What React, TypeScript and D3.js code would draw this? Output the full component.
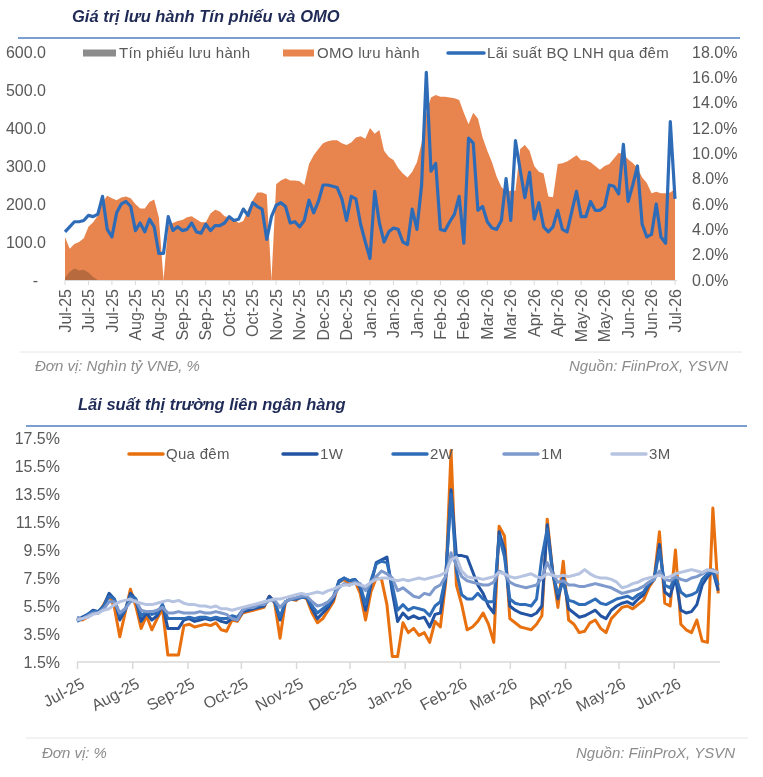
import { useEffect, useRef } from "react";
import * as d3 from "d3";

const FONT = "'Liberation Sans', Arial, sans-serif";
const NAVY = "#1F2B56";
const RULE = "#4F7FC0";
const AXIS_TEXT = "#595959";
const FOOT_TEXT = "#8C8C8C";

// ---------- top chart: outstanding bills & OMO ----------
const topTickLabels = [
  "Jul-25", "Jul-25", "Jul-25", "Aug-25", "Aug-25", "Sep-25", "Sep-25", "Oct-25", "Oct-25",
  "Nov-25", "Nov-25", "Dec-25", "Dec-25", "Jan-26", "Jan-26", "Jan-26", "Feb-26", "Feb-26",
  "Mar-26", "Mar-26", "Apr-26", "Apr-26", "May-26", "May-26", "Jun-26", "Jun-26", "Jul-26",
];

const omoValues = [
  113, 82, 95, 100, 110, 140, 152, 170, 205, 222,
  215, 210, 217, 220, 215, 200, 188, 188, 205, 212,
  165, 0, 145, 150, 155, 158, 165, 168, 160, 152,
  152, 175, 185, 180, 168, 165, 160, 150, 155, 185,
  210, 230, 230, 225, 0, 252, 262, 268, 262, 262,
  260, 250, 305, 328, 345, 360, 365, 368, 368, 360,
  355, 362, 375, 378, 372, 400, 385, 395, 340, 324,
  316, 295, 280, 270, 285, 310, 360, 440, 480, 487,
  482, 482, 480, 478, 474, 440, 410, 440, 425, 375,
  340, 310, 272, 245, 232, 235, 235, 345, 355, 340,
  300, 285, 280, 220, 218, 305, 307, 312, 320, 328,
  315, 315, 310, 300, 290, 300, 305, 320, 335, 330,
  318, 308, 295, 270, 255, 228, 232, 228, 228, 230,
  240,
];

const tinPhieuValues = [5, 22, 30, 25, 27, 20, 8, 0];

const lnhOvernight = [
  3.8, 4.2, 4.6, 4.6, 4.7, 5.1, 5.0, 5.2, 6.6, 4.0,
  3.4, 5.3, 6.0, 6.2, 5.8, 3.9, 4.5, 3.8, 4.8, 4.2,
  2.1, 2.1, 5.0, 3.9, 4.2, 3.9, 4.0, 4.5, 3.8, 3.7,
  4.4, 3.9, 4.3, 4.3, 4.5, 5.0, 4.7, 4.8, 5.6, 5.1,
  6.1, 5.8, 5.6, 3.2, 5.0, 5.9, 6.1, 5.8, 4.5, 4.6,
  4.2, 4.7, 6.3, 5.3, 6.2, 7.5, 7.5, 7.4, 7.3, 6.4,
  4.7, 6.6, 6.4, 4.4, 3.0, 1.7, 7.0, 4.5, 3.0, 3.8,
  4.1, 4.0, 3.0, 2.8, 5.6, 4.0, 7.5, 16.4, 8.6, 9.2,
  4.0, 3.9, 4.6, 5.2, 6.6, 2.9, 11.2, 10.8, 5.5, 5.8,
  4.6, 4.1, 4.0, 4.7, 8.0, 4.7, 11.0, 8.7, 6.5, 8.5,
  4.8, 6.1, 4.2, 3.8, 4.2, 5.5, 4.0, 3.8, 5.4, 7.0,
  5.0, 5.0, 6.2, 5.5, 5.5, 5.8, 7.5, 7.4, 6.8, 10.7,
  6.2, 7.5, 9.0, 4.4, 3.4, 3.6, 6.0, 3.4, 2.9, 12.5,
  6.4,
];

const leftTicks = [0, 100, 200, 300, 400, 500, 600];
const rightTicks = [0, 2, 4, 6, 8, 10, 12, 14, 16, 18];

// ---------- bottom chart: interbank rates ----------
const rateStart = new Date(2025, 6, 1);
const rateStepDays = 3;

const quaDem = [
  4.6, 4.5, 4.7, 5.0, 5.0, 5.6, 6.3, 5.4, 3.3, 5.0,
  6.7, 5.5, 3.9, 4.8, 3.8, 4.6, 5.3, 2.0, 2.0, 2.0,
  4.1, 4.2, 4.0, 4.1, 4.2, 4.1, 4.3, 3.8, 3.7, 4.5,
  4.4, 5.0, 5.1, 5.2, 5.3, 5.4, 6.2, 5.7, 3.2, 5.8,
  6.0, 5.9, 6.2, 6.0, 5.0, 4.3, 4.6, 5.2, 5.8, 7.2,
  7.4, 7.0, 7.3, 6.4, 4.5, 6.5, 7.5, 7.4, 5.6, 1.9,
  1.9, 4.3, 3.6, 3.9, 3.4, 3.6, 2.9, 4.4, 4.0, 7.2,
  16.6, 7.0, 5.6, 3.8, 4.0, 4.4, 5.0, 4.2, 2.9, 11.2,
  10.5, 4.6, 4.3, 4.0, 3.9, 3.8, 4.2, 4.8, 11.7, 8.0,
  5.4, 8.7, 4.5, 4.2, 3.6, 3.7, 4.3, 4.5, 3.9, 3.6,
  4.6, 5.0, 5.4, 5.5, 5.3, 5.6, 5.9, 6.8, 7.4, 10.8,
  5.7, 5.5, 9.5, 4.2, 3.8, 3.6, 4.5, 3.0, 2.9, 12.5,
  6.4,
];

const rate1W = [
  4.5, 4.7, 4.9, 5.2, 5.1, 5.5, 6.4, 6.0, 4.5, 5.2,
  6.4, 6.0, 4.4, 5.0, 4.5, 4.8, 5.6, 3.9, 3.9, 3.9,
  4.5, 4.6, 4.4, 4.5, 4.6, 4.5, 4.6, 4.4, 4.3, 4.6,
  4.5, 5.1, 5.2, 5.3, 5.4, 5.5, 6.2, 5.8, 4.5, 5.8,
  6.0, 6.0, 6.2, 6.1, 5.3, 4.6, 5.0, 5.4, 6.0, 7.3,
  7.5, 7.3, 7.4, 6.8, 5.2, 7.0, 8.6, 8.8, 9.0, 6.5,
  4.4, 5.0, 4.6, 4.8, 4.6, 4.7, 4.0, 4.9, 5.0, 7.5,
  13.8, 9.1, 9.1, 9.0, 8.0, 7.0, 6.4, 5.5, 5.0, 10.8,
  9.5, 5.5, 5.2, 5.0, 4.9, 4.8, 5.0, 5.5, 11.3, 8.0,
  6.0, 7.5, 5.3, 5.0, 4.7, 4.8, 5.0, 5.2, 4.8, 4.6,
  5.2, 5.5, 5.7, 5.8, 5.6, 6.0, 6.3, 7.0, 7.4, 9.9,
  6.5, 6.2, 7.5, 5.2, 5.0, 5.1, 5.6, 7.0, 7.6, 8.0,
  6.6,
];

const rate2W = [
  4.4, 4.6, 4.9, 5.1, 5.1, 5.5, 6.2, 6.0, 4.8, 5.2,
  6.2, 6.0, 4.8, 5.1, 4.9, 5.0, 5.6, 4.6, 4.6, 4.6,
  4.6, 4.7, 4.6, 4.7, 4.7, 4.6, 4.7, 4.6, 4.6, 4.8,
  4.7, 5.2, 5.3, 5.4, 5.5, 5.6, 6.0, 5.8, 4.7, 5.8,
  6.0, 6.0, 6.1, 6.1, 5.5, 5.0, 5.3, 5.6, 6.2, 7.2,
  7.5, 7.3, 7.4, 7.0, 5.6, 7.3, 8.5, 8.7, 8.6, 7.0,
  5.2, 5.6, 5.2, 5.4, 5.3, 5.2, 4.8, 5.5, 5.8, 7.6,
  13.5, 8.0, 6.3, 6.0, 6.0, 6.4, 6.0, 5.8, 5.8, 10.5,
  9.0, 6.0, 5.7, 5.6, 5.6, 5.5, 6.0, 9.0, 11.0, 7.8,
  6.4, 7.2, 5.9, 5.8, 5.6, 5.6, 5.8, 6.0, 5.7, 5.6,
  5.8, 6.0, 6.1, 6.2, 6.0, 6.3, 6.5, 7.1, 7.4, 9.5,
  7.0, 6.8, 7.6, 6.5, 6.2, 6.3, 6.5, 7.4, 7.8, 8.0,
  7.0,
];

const rate1M = [
  4.7, 4.6, 4.8, 5.0, 5.0, 5.3, 5.8, 5.8, 5.0, 5.3,
  5.8, 5.9, 5.2, 5.1, 5.1, 5.2, 5.4, 5.0, 5.0, 5.1,
  5.0, 5.0, 5.0, 5.1, 5.0, 5.0, 5.1, 5.0, 4.9, 4.6,
  4.5, 5.2, 5.4, 5.4, 5.6, 5.6, 5.9, 5.9, 5.4, 5.8,
  6.0, 6.1, 6.2, 6.2, 5.8, 5.5, 5.6, 5.8, 6.2, 6.8,
  7.1, 7.0, 7.2, 7.1, 6.6, 7.2, 7.6, 8.0, 7.8, 7.5,
  6.6, 6.8, 6.5, 6.2, 6.1, 6.4, 6.3, 6.8, 7.0, 7.6,
  9.3, 8.4, 7.6, 7.3, 7.2, 7.1, 7.0, 7.0, 7.2, 8.0,
  7.8, 7.2, 7.0, 6.9, 6.8, 6.9, 7.0, 7.5, 8.6, 7.8,
  7.2, 7.3, 7.0, 7.0, 6.9, 6.9, 7.0, 7.1, 7.0, 6.9,
  6.8, 6.6, 6.4, 6.5, 6.6, 6.7, 6.9, 7.2, 7.4, 8.0,
  7.4, 7.3, 7.6, 7.4, 7.3, 7.5, 7.6, 7.8, 8.0, 8.1,
  7.8,
];

const rate3M = [
  4.5, 4.6, 4.7, 4.9, 5.0, 5.2, 5.3, 5.6, 5.8, 5.9,
  6.0, 5.8, 5.7, 5.6, 5.6, 5.7, 5.8, 5.9, 5.8, 5.9,
  5.7, 5.6, 5.6, 5.5, 5.5, 5.4, 5.5, 5.3, 5.3, 5.2,
  5.3, 5.4, 5.5, 5.6, 5.7, 5.8, 5.9, 6.0, 6.0, 6.1,
  6.2, 6.3, 6.4, 6.3, 6.4, 6.5, 6.4, 6.6, 6.7, 6.9,
  7.0, 7.0, 7.1, 7.0, 6.9, 7.2, 7.4, 7.5, 7.5, 7.4,
  7.3, 7.4, 7.3, 7.4, 7.5, 7.4, 7.5, 7.6, 7.7, 7.9,
  8.8, 9.0, 8.0, 7.6, 7.5, 7.5, 7.4, 7.5, 7.6, 7.9,
  7.8, 7.6, 7.5, 7.6, 7.7, 7.8, 7.6, 7.5, 7.8, 7.7,
  7.6, 7.7, 7.6, 7.7, 7.8, 8.1, 7.8, 7.6, 7.5, 7.5,
  7.4, 7.2, 6.8, 6.9, 7.1, 7.2, 7.4, 7.5, 7.6, 7.7,
  7.5, 7.6, 7.8, 7.9, 8.0, 8.1, 8.0, 7.9, 8.1, 8.0,
  7.9,
];

const rateTicks = [1.5, 3.5, 5.5, 7.5, 9.5, 11.5, 13.5, 15.5, 17.5];

const rateSeries = [
  { name: "Qua đêm", values: quaDem, color: "#E8700F" },
  { name: "1W", values: rate1W, color: "#2254A3" },
  { name: "2W", values: rate2W, color: "#2F6DB9" },
  { name: "1M", values: rate1M, color: "#7E99CC" },
  { name: "3M", values: rate3M, color: "#B6C4E2" },
];

type Sel = d3.Selection<SVGSVGElement, unknown, null, undefined>;

function drawTop(svg: Sel) {
  const g = svg.append("g");

  g.append("text")
    .attr("x", 72)
    .attr("y", 22)
    .attr("font-size", 16.5)
    .attr("font-weight", "bold")
    .attr("font-style", "italic")
    .attr("fill", NAVY)
    .text("Giá trị lưu hành Tín phiếu và OMO");
  g.append("line")
    .attr("x1", 18).attr("x2", 740)
    .attr("y1", 38).attr("y2", 38)
    .attr("stroke", RULE).attr("stroke-width", 1.5);

  const x = d3.scaleLinear().domain([0, omoValues.length - 1]).range([65, 675]);
  const yL = d3.scaleLinear().domain([0, 600]).range([280, 52]);
  const yR = d3.scaleLinear().domain([0, 18]).range([280, 52]);

  const area = d3
    .area<number>()
    .x((_, i) => x(i))
    .y0(yL(0))
    .y1((d) => yL(d));

  g.append("path").datum(omoValues).attr("d", area).attr("fill", "#E8854F");
  g.append("path")
    .datum(tinPhieuValues)
    .attr("d", area)
    .attr("fill", "#8C8C8C")
    .attr("opacity", 0.45)
    .style("mix-blend-mode", "multiply");

  // x axis
  g.append("line")
    .attr("x1", x(0)).attr("x2", x(omoValues.length - 1) + 2)
    .attr("y1", 280.5).attr("y2", 280.5)
    .attr("stroke", "#D9D9D9");
  const step = (omoValues.length - 1) / (topTickLabels.length - 1);
  topTickLabels.forEach((lab, j) => {
    const tx = x(j * step);
    g.append("line")
      .attr("x1", tx).attr("x2", tx)
      .attr("y1", 280).attr("y2", 285)
      .attr("stroke", "#D9D9D9");
    g.append("text")
      .attr("transform", `translate(${tx},289) rotate(-90)`)
      .attr("text-anchor", "end")
      .attr("dy", "0.35em")
      .attr("font-size", 16)
      .attr("fill", AXIS_TEXT)
      .text(lab);
  });

  const line = d3
    .line<number>()
    .x((_, i) => x(i))
    .y((d) => yR(d));
  g.append("path")
    .datum(lnhOvernight)
    .attr("d", line)
    .attr("fill", "none")
    .attr("stroke", "#2E6CB8")
    .attr("stroke-width", 3.2)
    .attr("stroke-linejoin", "round");

  leftTicks.forEach((v) => {
    g.append("text")
      .attr("x", v === 0 ? 38 : 46)
      .attr("y", yL(v))
      .attr("dy", "0.35em")
      .attr("text-anchor", "end")
      .attr("font-size", 16)
      .attr("fill", AXIS_TEXT)
      .text(v === 0 ? "-" : v.toFixed(1));
  });
  rightTicks.forEach((v) => {
    g.append("text")
      .attr("x", 692)
      .attr("y", yR(v))
      .attr("dy", "0.35em")
      .attr("font-size", 16)
      .attr("fill", AXIS_TEXT)
      .text(`${v.toFixed(1)}%`);
  });

  // legend
  const ly = 53;
  const leg = g.append("g").attr("font-size", 15).attr("fill", AXIS_TEXT).attr("letter-spacing", 0.3);
  leg.append("rect").attr("x", 83).attr("y", ly - 3.5).attr("width", 33).attr("height", 7).attr("fill", "#8C8C8C");
  leg.append("text").attr("x", 119).attr("y", ly).attr("dy", "0.35em").text("Tín phiếu lưu hành");
  leg.append("rect").attr("x", 283).attr("y", ly - 3.5).attr("width", 31).attr("height", 7).attr("fill", "#E8854F");
  leg.append("text").attr("x", 317).attr("y", ly).attr("dy", "0.35em").text("OMO lưu hành");
  leg.append("line").attr("x1", 448).attr("x2", 484).attr("y1", ly).attr("y2", ly)
    .attr("stroke", "#2E6CB8").attr("stroke-width", 3.5).attr("stroke-linecap", "round");
  leg.append("text").attr("x", 487).attr("y", ly).attr("dy", "0.35em").text("Lãi suất BQ LNH qua đêm");

  // footer
  g.append("line").attr("x1", 20).attr("x2", 742).attr("y1", 352).attr("y2", 352).attr("stroke", "#E6E6E6");
  g.append("text").attr("x", 35).attr("y", 371).attr("font-size", 15).attr("font-style", "italic")
    .attr("fill", FOOT_TEXT).text("Đơn vị: Nghìn tỷ VNĐ, %");
  g.append("text").attr("x", 728).attr("y", 371).attr("font-size", 15).attr("font-style", "italic")
    .attr("text-anchor", "end").attr("fill", FOOT_TEXT).text("Nguồn: FiinProX, YSVN");
}

function drawBottom(svg: Sel) {
  const g = svg.append("g");

  g.append("text")
    .attr("x", 78)
    .attr("y", 410)
    .attr("font-size", 16.5)
    .attr("font-weight", "bold")
    .attr("font-style", "italic")
    .attr("fill", NAVY)
    .text("Lãi suất thị trường liên ngân hàng");
  g.append("line")
    .attr("x1", 26).attr("x2", 747)
    .attr("y1", 426).attr("y2", 426)
    .attr("stroke", RULE).attr("stroke-width", 1.5);

  const dates = quaDem.map((_, i) => d3.timeDay.offset(rateStart, i * rateStepDays));
  const x = d3.scaleTime().domain([rateStart, new Date(2026, 5, 27)]).range([77, 720]);
  const y = d3.scaleLinear().domain([1.5, 17.5]).range([662, 438]);

  const xAxis = g
    .append("g")
    .attr("transform", "translate(0,662)")
    .call(
      d3
        .axisBottom(x)
        .ticks(d3.timeMonth.every(1))
        .tickSize(7)
        .tickFormat((d) => d3.timeFormat("%b-%y")(d as Date)),
    );
  xAxis.select(".domain").attr("stroke", "#D9D9D9").attr("stroke-width", 1.5).attr("d", "M77,0H720");
  xAxis.selectAll(".tick line").attr("stroke", "#D9D9D9").attr("stroke-width", 1.5);
  xAxis
    .selectAll<SVGTextElement, Date>(".tick text")
    .attr("font-size", 16)
    .attr("font-family", FONT)
    .attr("fill", AXIS_TEXT)
    .attr("text-anchor", "end")
    .attr("dy", null)
    .attr("y", null)
    .attr("transform", "translate(8,25) rotate(-28)");

  rateTicks.forEach((v) => {
    g.append("text")
      .attr("x", 60)
      .attr("y", y(v))
      .attr("dy", "0.35em")
      .attr("text-anchor", "end")
      .attr("font-size", 16)
      .attr("fill", AXIS_TEXT)
      .text(`${v.toFixed(1)}%`);
  });

  const line = d3
    .line<number>()
    .x((_, i) => x(dates[i]))
    .y((d) => y(d));
  rateSeries.forEach((s) => {
    g.append("path")
      .datum(s.values)
      .attr("d", line)
      .attr("fill", "none")
      .attr("stroke", s.color)
      .attr("stroke-width", 3)
      .attr("stroke-linejoin", "round");
  });

  // legend
  const ly = 454;
  const legX = [129, 283, 393, 504, 612];
  rateSeries.forEach((s, i) => {
    g.append("line")
      .attr("x1", legX[i]).attr("x2", legX[i] + 34)
      .attr("y1", ly).attr("y2", ly)
      .attr("stroke", s.color).attr("stroke-width", 3.5).attr("stroke-linecap", "round");
    g.append("text")
      .attr("x", legX[i] + 37)
      .attr("y", ly)
      .attr("dy", "0.35em")
      .attr("font-size", 15)
      .attr("letter-spacing", 0.3)
      .attr("fill", AXIS_TEXT)
      .text(s.name);
  });

  // footer
  g.append("line").attr("x1", 26).attr("x2", 748).attr("y1", 738).attr("y2", 738).attr("stroke", "#E6E6E6");
  g.append("text").attr("x", 42).attr("y", 758).attr("font-size", 15).attr("font-style", "italic")
    .attr("fill", FOOT_TEXT).text("Đơn vị: %");
  g.append("text").attr("x", 735).attr("y", 758).attr("font-size", 15).attr("font-style", "italic")
    .attr("text-anchor", "end").attr("fill", FOOT_TEXT).text("Nguồn: FiinProX, YSVN");
}

export default function App() {
  const svgRef = useRef<SVGSVGElement>(null);

  useEffect(() => {
    const el = svgRef.current;
    if (!el) return;
    const svg = d3.select(el);
    svg.selectAll("*").remove();
    drawTop(svg);
    drawBottom(svg);
  }, []);

  return (
    <svg
      ref={svgRef}
      width={763}
      height={777}
      fontFamily={FONT}
      style={{ position: "absolute", left: 0, top: 0, background: "#fff", display: "block" }}
    />
  );
}
